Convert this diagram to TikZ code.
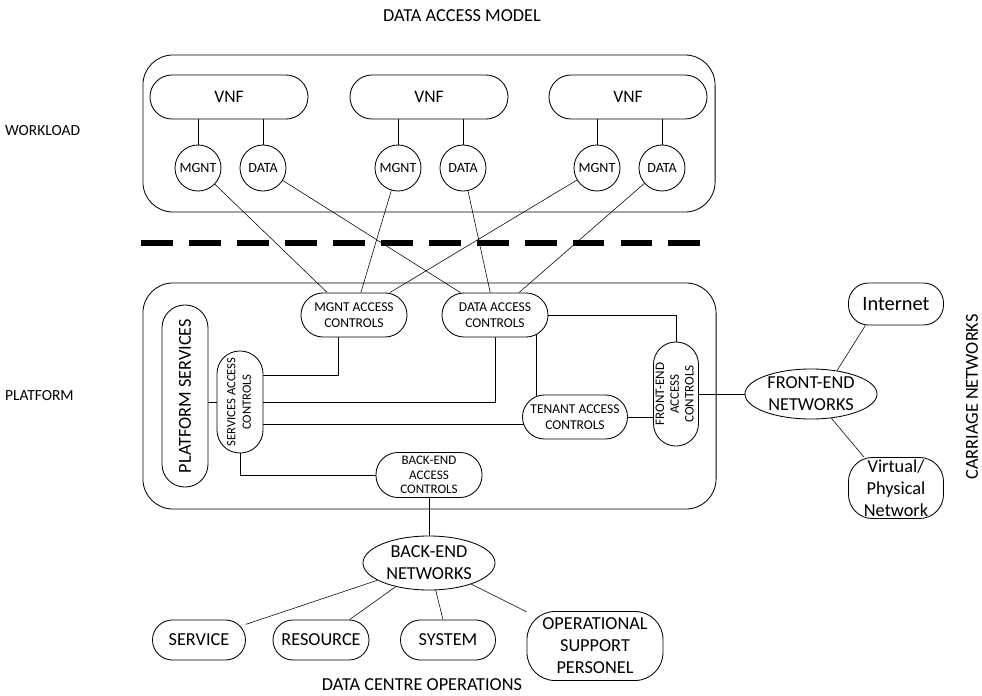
\documentclass[tikz,border=0pt]{standalone}
\usepackage{fontspec}
\setmainfont{Carlito}
\usetikzlibrary{shapes.geometric,calc,backgrounds}

\newcommand{\vtext}[1]{\rotatebox{90}{\begin{tabular}{@{}c@{}}#1\end{tabular}}}

\tikzset{
  pill/.style={draw, rectangle, fill=white, inner sep=0pt, rounded corners=#1},
  pill/.default=0.55cm,
  port/.style={draw, circle, fill=white, inner sep=0pt, minimum size=1.15cm, font=\fontsize{10}{12}\selectfont},
  ctrl/.style={pill, minimum width=2.65cm, minimum height=1.1cm, font=\fontsize{9.6}{11.8}\selectfont},
  vctrl/.style={pill=0.57cm, minimum width=1.15cm, font=\fontsize{9}{11}\selectfont},
  net/.style={draw, ellipse, fill=white, inner xsep=0pt, inner ysep=-2pt, minimum width=3.3cm, font=\fontsize{13}{15.6}\selectfont},
  ops/.style={pill=0.5cm, minimum height=1cm, font=\fontsize{13}{15.6}\selectfont},
  zone/.style={draw, rectangle, rounded corners=0.75cm, inner sep=0pt},
  lbl/.style={font=\fontsize{13}{15.6}\selectfont},
}

\begin{document}
\begin{tikzpicture}[x=0.025cm,y=-0.025cm,semithick,every text node part/.style={align=center}]
  \useasboundingbox (0,0) rectangle (982,696);

    % --------------------------------------------------------- %
    % ------------- labels
    % --------------------------------------------------------- %
    \node[lbl] (title) at (462,16) {DATA ACCESS MODEL};
    \node[lbl,font=\fontsize{11}{13}\selectfont,anchor=west] (wlLbl) at (0,131) {WORKLOAD};
    \node[lbl,font=\fontsize{11}{13}\selectfont,anchor=west] (pfLbl) at (0,396) {PLATFORM};
    \node[lbl,rotate=90] (cnLbl) at (972,397) {CARRIAGE NETWORKS};
    \node[lbl] (dcoLbl) at (422,685) {DATA CENTRE OPERATIONS};

    % --------------------------------------------------------- %
    % ------------- workload
    % --------------------------------------------------------- %
    \node[zone, minimum width=14.3cm, minimum height=3.925cm] (wlBox) at (429,133.5) {};
    \foreach \i/\x in {1/229,2/429,3/628} {
      \node[pill, minimum width=3.95cm, minimum height=1.1cm, font=\fontsize{12.5}{15}\selectfont] (vnf\i) at (\x,97) {VNF};
      \node[port] (mg\i) at (\x-31,168) {MGNT};
      \node[port] (dt\i) at (\x+34,168) {DATA};
    }

    \coordinate (sepL) at (141,243);
    \coordinate (sepR) at (701,243);
    \draw[line width=3.6pt, dash pattern=on 22.7pt off 11.4pt] (sepL) -- (sepR);

    % --------------------------------------------------------- %
    % ------------- platform
    % --------------------------------------------------------- %
    \node[zone, minimum width=14.325cm, minimum height=5.65cm] (pfBox) at (429.5,396) {};
    \node[vctrl, minimum height=4.55cm, font=\fontsize{13}{15}\selectfont] (ps) at (185,396) {\rotatebox{90}{PLATFORM SERVICES}};
    \node[vctrl, minimum height=2.55cm] (sac) at (240,402) {\vtext{SERVICES ACCESS\\CONTROLS}};
    \node[ctrl] (mac) at (354,315) {MGNT ACCESS\\CONTROLS};
    \node[ctrl] (dac) at (495,315) {DATA ACCESS\\CONTROLS};
    \node[ctrl, minimum width=2.625cm] (ten) at (575,417) {TENANT ACCESS\\CONTROLS};
    \node[vctrl, pill=0.56cm, minimum width=1.125cm, minimum height=2.6cm, font=\fontsize{9.3}{10.5}\selectfont] (feac) at (676,394) {\vtext{FRONT-END\\ACCESS\\CONTROLS}};
    \node[ctrl, minimum height=1.125cm, font=\fontsize{9.3}{10.5}\selectfont] (beac) at (429,475) {BACK-END\\ACCESS\\CONTROLS};

    % --------------------------------------------------------- %
    % ------------- carriage networks
    % --------------------------------------------------------- %
    \node[net, minimum height=1.25cm] (fen) at (811,394) {FRONT-END\\NETWORKS};
    \node[ops, minimum width=2.375cm, minimum height=1.05cm, font=\fontsize{14.5}{17}\selectfont] (inet) at (896,304) {Internet};
    \node[ops, pill=0.6cm, minimum width=2.375cm, minimum height=1.525cm] (vpn) at (896,488) {Virtual/\\Physical\\Network};

    % --------------------------------------------------------- %
    % ------------- data centre operations
    % --------------------------------------------------------- %
    \node[net, minimum height=1.35cm] (ben) at (429,563) {BACK-END\\NETWORKS};
    \node[ops, minimum width=2.325cm] (svc) at (199,640) {SERVICE};
    \node[ops, minimum width=2.4cm] (res) at (321,640) {RESOURCE};
    \node[ops, minimum width=2.375cm] (sys) at (448,640) {SYSTEM};
    \node[ops, pill=0.7cm, minimum width=3.4cm, minimum height=1.725cm] (osp) at (595,646) {OPERATIONAL\\SUPPORT\\PERSONEL};

    % --------------------------------------------------------- %
    % ------------- connectors
    % --------------------------------------------------------- %
    \coordinate (macTap) at ($(mac)+(-16,0)$);
    \coordinate (sacTop) at ($(sac)+(0,-27)$);
    \coordinate (tenTap) at ($(ten)+(0,7)$);
    \coordinate (dacTap) at ($(dac)+(41,0)$);

    \begin{scope}[on background layer]
      \foreach \i in {1,2,3} {
        \draw (mg\i) -- (mg\i |- vnf\i);
        \draw (dt\i) -- (dt\i |- vnf\i);
      }
      \draw[thin] (mg1) -- (mac.140);
      \draw[thin] (dt1) -- (dac.147);
      \draw[thin] (mg2) -- (mac.73);
      \draw[thin] (dt2) -- (dac.102);
      \draw[thin] (mg3) -- (mac.32);
      \draw[thin] (dt3) -- (dac.43);

      \draw (ps.center |- sac) -- (sac);
      \draw (macTap) |- (sacTop);
      \draw (sac) -| (dac);
      \draw (tenTap) -- (tenTap -| sac);
      \draw (ten) -- (ten -| feac);
      \draw (dacTap) -- (dacTap |- ten);
      \draw (dac) -| (feac);
      \draw (sac) |- (beac);
      \draw (beac) -- (ben);

      \draw (feac) -- (fen);
      \draw (fen.42) -- (inet.215);
      \draw (fen.-50) -- (vpn.136);

      \foreach \n in {svc,res,sys,osp}
        \draw (ben) -- (\n);
    \end{scope}

\end{tikzpicture}
\end{document}
